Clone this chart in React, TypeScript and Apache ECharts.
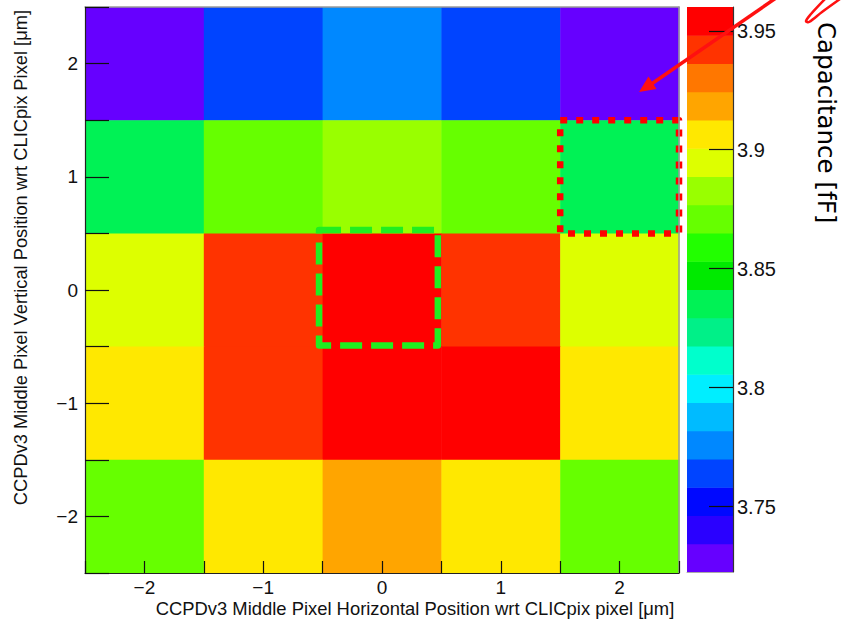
import React, { useEffect, useRef } from "react";
import * as echarts from "echarts";

// Cell centres along each axis (µm)
const xCenters = [-2, -1, 0, 1, 2];
const yCenters = [2, 1, 0, -1, -2];

// Capacitance [fF] per cell, one row per vertical position (top row first)
const rowYp2 = [3.724, 3.765, 3.777, 3.764, 3.7225];
const rowYp1 = [3.836, 3.871, 3.883, 3.869, 3.835];
const rowY0 = [3.895, 3.943, 3.96, 3.942, 3.894];
const rowYm1 = [3.906, 3.941, 3.953, 3.951, 3.907];
const rowYm2 = [3.869, 3.906, 3.918, 3.905, 3.871];
const rows = [rowYp2, rowYp1, rowY0, rowYm1, rowYm2];

// Colour scale range and labelled ticks
const zMin = 3.7225;
const zMax = 3.96;
const zTicks = [3.75, 3.8, 3.85, 3.9, 3.95];
const xTickLabels = [-2, -1, 0, 1, 2];
const yTickLabels = [-2, -1, 0, 1, 2];

// 20-step rainbow palette, lowest contour first
const palette = [
  "#6600ff", "#2a00ff", "#0008ff", "#0044ff", "#0088ff",
  "#00bbff", "#00eeff", "#00ffcc", "#00f088", "#00f255",
  "#00ea00", "#22ff00", "#66ff00", "#99ff00", "#ddff00",
  "#ffe800", "#ffa500", "#ff7700", "#ff3300", "#ff0000",
];

// Highlighted regions in axis units: [x0, y0, x1, y1]
const centreRegion = [-0.53, -0.49, 0.47, 0.53];
const cornerRegion = [1.5, 0.5, 2.5, 1.5];

const xTitle = "CCPDv3 Middle Pixel Horizontal Position wrt CLICpix pixel [μm]";
const yTitle = "CCPDv3 Middle Pixel Vertical Position wrt CLICpix Pixel [μm]";
const zTitle = "Capacitance [fF]";

const step = (zMax - zMin) / palette.length;
const colorFor = (v: number) => {
  const i = Math.floor((v - zMin) / step);
  return palette[Math.max(0, Math.min(palette.length - 1, i))];
};
const fmtMinus = (v: number) => String(v).replace("-", "\u2212");

const FONT = "'Liberation Sans', Arial, Helvetica, sans-serif";

export default function App() {
  const ref = useRef<HTMLDivElement>(null);

  useEffect(() => {
    document.body.style.margin = "0";
    if (!ref.current) return;
    const chart = echarts.init(ref.current, undefined, { renderer: "svg" });

    const cells: number[][] = [];
    rows.forEach((row, r) =>
      row.forEach((v, c) => cells.push([xCenters[c], yCenters[r], v]))
    );
    const bands = palette.map((_, i) => [zMin + i * step, zMin + (i + 1) * step, i]);

    const boxSeries = (region: number[], color: string, dash: number[], name: string) => ({
      type: "custom",
      name,
      xAxisIndex: 0,
      yAxisIndex: 0,
      z: 6,
      silent: true,
      clip: false,
      data: [region],
      renderItem: (_p: any, api: any) => {
        const a = api.coord([api.value(0), api.value(3)]);
        const b = api.coord([api.value(2), api.value(1)]);
        return {
          type: "rect",
          shape: { x: a[0], y: a[1], width: b[0] - a[0], height: b[1] - a[1] },
          style: {
            fill: "none",
            stroke: color,
            lineWidth: 6.5,
            lineDash: dash,
            lineJoin: "round",
          },
        };
      },
    });

    const labelStyle = { fontFamily: FONT, color: "#111" };

    chart.setOption({
      animation: false,
      grid: [
        { left: 85, top: 7, width: 594, height: 566 },
        { left: 687, top: 7, width: 46, height: 565 },
      ],
      xAxis: [
        {
          gridIndex: 0,
          type: "value",
          min: -2.5,
          max: 2.5,
          interval: 0.5,
          position: "bottom",
          z: 10,
          axisLine: { show: true, onZero: false, lineStyle: { color: "#222", width: 1.2 } },
          axisTick: { show: true, inside: true, length: 12, lineStyle: { color: "#111", width: 1.2 } },
          axisLabel: {
            ...labelStyle,
            fontSize: 19,
            margin: 5,
            formatter: (v: number) => (xTickLabels.includes(v) ? fmtMinus(v) : ""),
          },
          splitLine: { show: false },
        },
        {
          gridIndex: 0,
          type: "value",
          min: -2.5,
          max: 2.5,
          position: "top",
          z: 10,
          axisLine: { show: true, onZero: false, lineStyle: { color: "#9a9a9a", width: 1.5 } },
          axisTick: { show: false },
          axisLabel: { show: false },
          splitLine: { show: false },
        },
        {
          gridIndex: 1,
          type: "value",
          min: 0,
          max: 1,
          z: 10,
          axisLine: { show: true, onZero: false, lineStyle: { color: "#aaa", width: 1 } },
          axisTick: { show: false },
          axisLabel: { show: false },
          splitLine: { show: false },
        },
      ],
      yAxis: [
        {
          gridIndex: 0,
          type: "value",
          min: -2.5,
          max: 2.5,
          interval: 0.5,
          position: "left",
          z: 10,
          axisLine: { show: true, onZero: false, lineStyle: { color: "#222", width: 1.2 } },
          axisTick: { show: true, inside: true, length: 24, lineStyle: { color: "#111", width: 1.2 } },
          axisLabel: {
            ...labelStyle,
            fontSize: 19,
            margin: 7,
            formatter: (v: number) => (yTickLabels.includes(v) ? fmtMinus(v) : ""),
          },
          splitLine: { show: false },
        },
        {
          gridIndex: 0,
          type: "value",
          min: -2.5,
          max: 2.5,
          position: "right",
          z: 10,
          axisLine: { show: true, onZero: false, lineStyle: { color: "#9a9a9a", width: 1.5 } },
          axisTick: { show: false },
          axisLabel: { show: false },
          splitLine: { show: false },
        },
        {
          gridIndex: 1,
          type: "value",
          min: zMin,
          max: zMax,
          position: "right",
          z: 10,
          axisLine: { show: true, onZero: false, lineStyle: { color: "#333", width: 1.2 } },
          axisTick: {
            show: true,
            inside: true,
            length: 24,
            customValues: zTicks,
            lineStyle: { color: "#111", width: 1.2 },
          },
          axisLabel: { ...labelStyle, fontSize: 20, margin: 4, customValues: zTicks },
          splitLine: { show: false },
        },
      ],
      series: [
        {
          type: "custom",
          name: "cells",
          xAxisIndex: 0,
          yAxisIndex: 0,
          z: 2,
          silent: true,
          data: cells,
          renderItem: (_p: any, api: any) => {
            const x = api.value(0);
            const y = api.value(1);
            const a = api.coord([x - 0.5, y + 0.5]);
            const b = api.coord([x + 0.5, y - 0.5]);
            return {
              type: "rect",
              shape: { x: a[0], y: a[1], width: b[0] - a[0] + 0.5, height: b[1] - a[1] + 0.5 },
              style: { fill: colorFor(api.value(2)) },
            };
          },
        },
        {
          type: "custom",
          name: "palette",
          xAxisIndex: 2,
          yAxisIndex: 2,
          z: 2,
          silent: true,
          data: bands,
          encode: { y: [0, 1] },
          renderItem: (_p: any, api: any) => {
            const a = api.coord([0, api.value(1)]);
            const b = api.coord([1, api.value(0)]);
            return {
              type: "rect",
              shape: { x: a[0], y: a[1], width: b[0] - a[0], height: b[1] - a[1] + 0.5 },
              style: { fill: palette[api.value(2)] },
            };
          },
        },
        boxSeries(centreRegion, "#20ee20", [22, 9], "centre"),
        boxSeries(cornerRegion, "#ff0000", [7, 9], "corner"),
      ],
      graphic: [
        {
          type: "text",
          x: 415,
          y: 608,
          style: {
            text: xTitle,
            fontFamily: FONT,
            fontSize: 18.4,
            fill: "#111",
            textAlign: "center",
            textVerticalAlign: "middle",
          },
        },
        {
          type: "text",
          x: 20,
          y: 10,
          rotation: Math.PI / 2,
          style: {
            text: yTitle,
            fontFamily: FONT,
            fontSize: 18.3,
            fill: "#111",
            textAlign: "right",
            textVerticalAlign: "middle",
          },
        },
        {
          type: "text",
          x: 826,
          y: 22,
          rotation: -Math.PI / 2,
          style: {
            text: zTitle,
            fontFamily: "'DejaVu Sans', sans-serif",
            fontSize: 24.5,
            fill: "#000",
            textAlign: "left",
            textVerticalAlign: "middle",
          },
        },
        {
          type: "line",
          shape: { x1: 776, y1: -2, x2: 650, y2: 85 },
          style: { stroke: "#ff1010", lineWidth: 3.5 },
          z: 20,
        },
        {
          type: "polygon",
          shape: { points: [[639, 92], [648.5, 76.5], [656.5, 89]] },
          style: { fill: "#ff1010" },
          z: 20,
        },
        {
          type: "polyline",
          shape: {
            points: [[825, -1], [811, 14], [806, 21], [809, 22], [822, 12], [840, -1]],
            smooth: 0.35,
          },
          style: { stroke: "#ff1010", lineWidth: 2.5, fill: "none" },
          z: 20,
        },
      ],
    });

    return () => chart.dispose();
  }, []);

  return <div ref={ref} style={{ width: 841, height: 622 }} />;
}
